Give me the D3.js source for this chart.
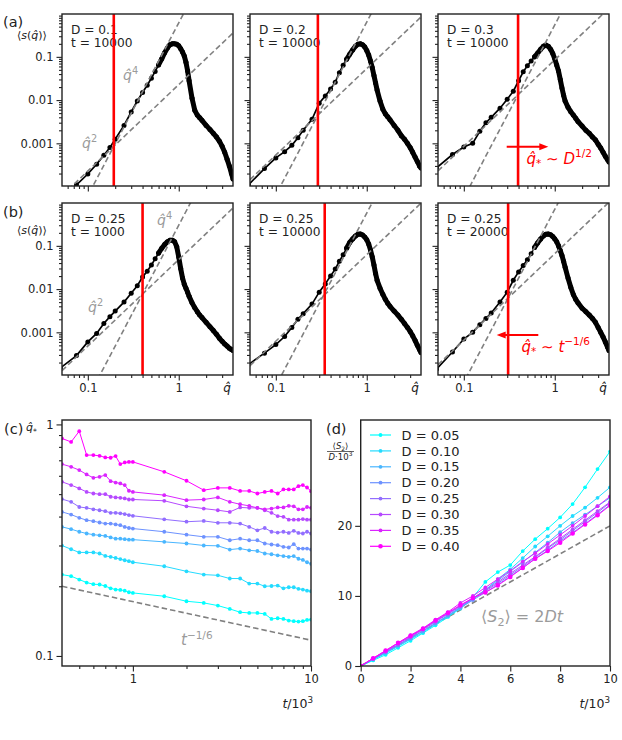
<!DOCTYPE html>
<html>
<head>
<meta charset="utf-8">
<script src="https://cdn.jsdelivr.net/npm/d3@7/dist/d3.min.js"></script>
<style>
  body { margin: 0; background: #fff; }
  svg { display: block; }
  text { font-family: "DejaVu Sans", sans-serif; }
</style>
</head>
<body>
<svg id="fig" width="622" height="740"></svg>
<script>
// ---------- data: structure factor panels (a), (b) ----------
const qGrid = [0.05, 0.075, 0.1, 0.125, 0.15, 0.175, 0.2,
  0.25, 0.3, 0.35, 0.4, 0.45, 0.5, 0.55, 0.6, 0.65, 0.7, 0.75, 0.8, 0.85, 0.9, 0.95,
  1.0, 1.05, 1.1, 1.15, 1.2, 1.25, 1.3,
  1.4, 1.5, 1.6, 1.7, 1.8,
  2.0, 2.2, 2.4, 2.6, 2.8, 3.0, 3.2, 3.4, 3.6, 3.8, 3.95];

const sA1 = [5e-5, 1.1e-4, 1.95e-4, 3.3e-4, 5.3e-4, 8e-4, 1.25e-3,
  2.6e-3, 5.3e-3, 9.5e-3, 0.015, 0.022, 0.032, 0.046, 0.065, 0.09, 0.125, 0.16, 0.19, 0.2, 0.2, 0.195,
  0.18, 0.155, 0.13, 0.105, 0.075, 0.048, 0.028,
  0.011, 0.0058, 0.0045, 0.0039, 0.0034,
  0.0026, 0.0021, 0.0017, 0.0014, 0.00112, 0.00085, 0.00062, 0.00043, 0.0003, 0.0002, 0.00015];
const sA2 = [1.1e-4, 2.6e-4, 4.6e-4, 6.4e-4, 9e-4, 1.35e-3, 2.0e-3,
  3.6e-3, 8.5e-3, 0.0125, 0.018, 0.026, 0.043, 0.064, 0.088, 0.115, 0.145, 0.175, 0.195, 0.2, 0.19, 0.17,
  0.14, 0.11, 0.08, 0.056, 0.037, 0.025, 0.017,
  0.0095, 0.0062, 0.0048, 0.0041, 0.0035,
  0.0026, 0.002, 0.0015, 0.00125, 0.001, 0.0008, 0.00062, 0.00048, 0.00038, 0.0003, 0.00027];
const sA3 = [2.7e-4, 5.5e-4, 8.2e-4, 1.0e-3, 1.9e-3, 3.0e-3, 4.0e-3,
  6.5e-3, 0.0105, 0.016, 0.028, 0.045, 0.062, 0.08, 0.1, 0.123, 0.15, 0.175, 0.187, 0.175, 0.15, 0.12,
  0.09, 0.065, 0.047, 0.03, 0.019, 0.013, 0.0095,
  0.0068, 0.0054, 0.0045, 0.0038, 0.0032,
  0.0025, 0.002, 0.0017, 0.0014, 0.0012, 0.00095, 0.00078, 0.00062, 0.0005, 0.00042, 0.00037];
const sB1 = [1.5e-4, 2.9e-4, 6.0e-4, 9.4e-4, 1.6e-3, 2.3e-3, 3.1e-3,
  5.0e-3, 8.0e-3, 0.012, 0.019, 0.026, 0.036, 0.05, 0.068, 0.088, 0.108, 0.124, 0.134, 0.135, 0.125, 0.095,
  0.055, 0.03, 0.018, 0.013, 0.0105, 0.0085, 0.0068,
  0.0048, 0.0037, 0.003, 0.0025, 0.0022,
  0.0017, 0.00135, 0.0011, 0.0009, 0.00073, 0.00062, 0.00054, 0.00048, 0.00043, 0.0004, 0.00038];
const sB2 = [1.8e-4, 3.3e-4, 5.2e-4, 8e-4, 1.3e-3, 2.0e-3, 2.7e-3,
  4.5e-3, 8.5e-3, 0.0132, 0.02, 0.029, 0.044, 0.062, 0.088, 0.12, 0.145, 0.168, 0.185, 0.188, 0.178, 0.16,
  0.138, 0.11, 0.08, 0.055, 0.036, 0.023, 0.016,
  0.0105, 0.0076, 0.0058, 0.0047, 0.004,
  0.0031, 0.0025, 0.002, 0.0016, 0.0013, 0.00105, 0.00083, 0.00065, 0.0005, 0.0004, 0.00034];
const sB3 = [1.4e-4, 3.5e-4, 7.0e-4, 1.0e-3, 1.5e-3, 2.1e-3, 2.8e-3,
  5.0e-3, 8.5e-3, 0.016, 0.025, 0.035, 0.048, 0.066, 0.092, 0.118, 0.145, 0.17, 0.186, 0.188, 0.18, 0.165,
  0.145, 0.125, 0.1, 0.078, 0.06, 0.044, 0.032,
  0.018, 0.011, 0.0075, 0.0058, 0.0048,
  0.0036, 0.003, 0.0025, 0.0021, 0.0017, 0.0013, 0.001, 0.00078, 0.0006, 0.00046, 0.00038];

const panelD = ['0.1', '0.2', '0.3', '0.25', '0.25', '0.25'];
const panelT = ['10000', '10000', '10000', '1000', '10000', '20000'];
const qStar = [0.193, 0.29, 0.395, 0.40, 0.345, 0.307];     // red line
const crossQ = [0.193, 0.29, 0.395, 0.40, 0.33, 0.307];     // where q^2 and q^4 guides meet
const crossS = [8.5e-4, 4.5e-3, 0.0133, 7.7e-3, 6.8e-3, 6.2e-3];

// ---------- data: panel (c) q* vs t ----------
const tLog = [0.4, 0.45, 0.5, 0.55, 0.6, 0.65, 0.7, 0.75, 0.8, 0.85, 0.9, 0.95, 1.0,
  1.5, 2, 2.5, 3, 3.5, 4, 4.5, 5, 5.5, 6, 6.5, 7, 7.5, 8, 8.5, 9, 9.5, 10];
const qsD05 = [0.2246, 0.2211, 0.2138, 0.2075, 0.2041, 0.2035, 0.2005, 0.196, 0.1935, 0.1929, 0.1915, 0.1884, 0.1872,
  0.1811, 0.1723, 0.1695, 0.165, 0.1596, 0.1545, 0.1534, 0.1534, 0.1519, 0.1445, 0.1455, 0.1445, 0.1422, 0.1413, 0.1408, 0.1413, 0.1431, 0.1436];
const qsD10 = [0.2999, 0.289, 0.28, 0.28, 0.28, 0.277, 0.2705, 0.268, 0.265, 0.262, 0.259, 0.2566, 0.254,
  0.244, 0.232, 0.2246, 0.223, 0.216, 0.216, 0.2055, 0.2055, 0.2, 0.2005, 0.2014, 0.196, 0.198, 0.198, 0.195, 0.1935, 0.1915, 0.1903];
const qsD15 = [0.361, 0.353, 0.344, 0.338, 0.334, 0.332, 0.33, 0.325, 0.321, 0.321, 0.3195, 0.318, 0.318,
  0.311, 0.306, 0.30, 0.299, 0.288, 0.291, 0.286, 0.284, 0.277, 0.275, 0.272, 0.27, 0.268, 0.27, 0.263, 0.26, 0.254, 0.25];
const qsD20 = [0.419, 0.408, 0.395, 0.386, 0.382, 0.377, 0.373, 0.373, 0.37, 0.367, 0.361, 0.357, 0.355,
  0.344, 0.334, 0.327, 0.327, 0.316, 0.321, 0.316, 0.316, 0.306, 0.303, 0.301, 0.296, 0.294, 0.304, 0.291, 0.291, 0.291, 0.288];
const qsD25 = [0.476, 0.463, 0.44, 0.436, 0.43, 0.426, 0.422, 0.415, 0.415, 0.413, 0.41, 0.406, 0.403,
  0.389, 0.38, 0.383, 0.376, 0.376, 0.373, 0.361, 0.349, 0.357, 0.344, 0.341, 0.344, 0.34, 0.347, 0.34, 0.338, 0.344, 0.338];
const qsD30 = [0.565, 0.547, 0.529, 0.511, 0.503, 0.5, 0.5, 0.487, 0.484, 0.482, 0.479, 0.474, 0.474,
  0.468, 0.443, 0.433, 0.426, 0.419, 0.438, 0.436, 0.436, 0.426, 0.415, 0.402, 0.399, 0.388, 0.388, 0.388, 0.39, 0.388, 0.388];
const qsD35 = [0.674, 0.656, 0.635, 0.608, 0.588, 0.594, 0.604, 0.569, 0.561, 0.556, 0.547, 0.517, 0.511,
  0.495, 0.471, 0.474, 0.484, 0.463, 0.452, 0.445, 0.436, 0.43, 0.433, 0.438, 0.438, 0.445, 0.443, 0.43, 0.43, 0.44, 0.436];
const qsD40 = [0.87, 0.84, 0.935, 0.737, 0.737, 0.732, 0.72, 0.718, 0.73, 0.674, 0.685, 0.689, 0.689,
  0.624, 0.571, 0.52, 0.532, 0.532, 0.516, 0.516, 0.503, 0.511, 0.516, 0.503, 0.524, 0.524, 0.524, 0.541, 0.547, 0.534, 0.515];

// ---------- data: panel (d) <S2>/(D 10^3) vs t ----------
const tLin = [0, 0.5, 1, 1.5, 2, 2.5, 3, 3.5, 4, 4.5, 5, 5.5, 6, 6.5, 7, 7.5, 8, 8.5, 9, 9.5, 10];
const s2D05 = [0, 0.8, 1.6, 2.6, 3.6, 4.7, 5.8, 7.0, 8.2, 9.8, 12.0, 13.4, 14.4, 16.4, 18.1, 19.6, 21.2, 23.1, 25.5, 28.1, 30.6];
const s2D10 = [0, 0.9, 1.8, 2.8, 3.8, 4.8, 6.0, 7.1, 8.3, 9.5, 10.8, 12.4, 13.8, 15.4, 17.05, 18.5, 20.0, 21.4, 22.6, 24.0, 25.5];
const s2D15 = [0, 1.0, 1.9, 2.9, 3.9, 5.0, 6.1, 7.2, 8.4, 9.6, 10.9, 12.2, 13.5, 14.8, 16.2, 17.6, 19.1, 20.4, 21.6, 22.8, 24.0];
const s2D20 = [0, 1.0, 2.0, 3.0, 4.0, 5.0, 6.1, 7.2, 8.3, 9.4, 10.5, 11.6, 12.8, 14.0, 15.3, 16.5, 17.8, 19.0, 20.3, 21.6, 23.0];
const s2D25 = [0, 1.0, 2.0, 3.0, 4.1, 5.2, 6.3, 7.4, 8.5, 9.6, 10.7, 11.8, 13.0, 14.2, 15.5, 16.8, 18.0, 19.3, 20.6, 21.9, 23.3];
const s2D30 = [0, 1.1, 2.1, 3.2, 4.2, 5.3, 6.4, 7.5, 8.6, 9.7, 10.8, 12.0, 13.2, 14.4, 15.6, 16.9, 18.2, 19.5, 20.8, 22.1, 23.4];
const s2D35 = [0, 1.1, 2.2, 3.3, 4.4, 5.4, 6.6, 7.7, 9.0, 10.0, 11.2, 12.4, 13.6, 14.9, 16.1, 17.4, 18.7, 20.0, 21.4, 22.8, 24.2];
const s2D40 = [0, 1.1, 2.2, 3.3, 4.3, 5.3, 6.5, 7.6, 8.7, 9.7, 10.5, 11.5, 12.7, 14.0, 15.3, 16.4, 17.6, 18.9, 20.2, 21.5, 22.9];

const dLabels = ['0.05', '0.10', '0.15', '0.20', '0.25', '0.30', '0.35', '0.40'];

// ---------- layout ----------
const svg = d3.select('#fig');
const INK = '#222';
const GUIDE = '#808080';
const NOTE = '#9b9b9b';
const RED = '#ff0000';
const W = 171, H = 172;
const colX = [62, 250, 438], rowY = [14, 203];
const qDomain = [0.052, 3.95], sDomain = [1.03e-4, 0.98];
const sData = [sA1, sA2, sA3, sB1, sB2, sB3];
const cool = d3.interpolateRgb('#00ffff', '#ff00ff');
const colors = dLabels.map((_, k) => cool(k / 7));

function minorLog(lo, hi) {
  const out = [];
  for (let e = -5; e <= 2; e++) {
    for (let k = 2; k <= 9; k++) {
      const v = k * Math.pow(10, e);
      if (v > lo && v < hi) out.push(v);
    }
  }
  return out;
}

function styleAxis(a, size) {
  a.select('.domain').remove();
  a.attr('font-family', '"DejaVu Sans", sans-serif').attr('font-size', size || 11.5).attr('color', INK);
  a.selectAll('line').attr('stroke-width', 1.1);
}

// math-ish text: parts = [[string, flags]], flags: i italic, ^ sup, _ sub
function mtext(sel, x, y, parts, size, color, anchor) {
  const t = sel.append('text').attr('x', x).attr('y', y)
    .attr('font-size', size).attr('fill', color).attr('text-anchor', anchor || 'start');
  let shift = 0;
  parts.forEach(([s, f]) => {
    let target = 0, fs = size;
    if (f.includes('^')) { target = -0.42 * size; fs = size * 0.7; }
    if (f.includes('_')) { target = 0.25 * size; fs = size * 0.7; }
    t.append('tspan').attr('dy', target - shift).attr('font-size', fs)
      .attr('font-style', f.includes('i') ? 'italic' : 'normal').text(s);
    shift = target;
  });
  return t;
}

function arrow(sel, x1, x2, y, color) {
  const dir = Math.sign(x2 - x1);
  sel.append('line').attr('x1', x1).attr('x2', x2 - dir * 6).attr('y1', y).attr('y2', y)
    .attr('stroke', color).attr('stroke-width', 2);
  sel.append('path')
    .attr('d', `M${x2},${y} L${x2 - dir * 9},${y - 3.5} L${x2 - dir * 9},${y + 3.5} Z`)
    .attr('fill', color);
}

// ---------- panels (a) and (b) ----------
sData.forEach((s, i) => {
  const row = Math.floor(i / 3), col = i % 3;
  const x0 = colX[col], y0 = rowY[row];
  const x = d3.scaleLog().domain(qDomain).range([x0, x0 + W]);
  const y = d3.scaleLog().domain(sDomain).range([y0 + H, y0]);
  const line = d3.line().x(d => x(d[0])).y(d => y(d[1]));

  svg.append('clipPath').attr('id', 'cp' + i).append('rect')
    .attr('x', x0).attr('y', y0).attr('width', W).attr('height', H);
  const plot = svg.append('g').attr('clip-path', `url(#cp${i})`);

  // label text sits under everything else
  plot.append('text').attr('x', x0 + 9).attr('y', y0 + 19.5).attr('font-size', 12.2).attr('fill', INK)
    .text('D = ' + panelD[i]);
  plot.append('text').attr('x', x0 + 9).attr('y', y0 + 33).attr('font-size', 12.2).attr('fill', INK)
    .text('t = ' + panelT[i]);

  const pts = qGrid.map((q, k) => [q, s[k]]);
  plot.append('path').attr('d', line(pts)).attr('fill', 'none')
    .attr('stroke', '#000').attr('stroke-width', 1.7);
  // past q ~ 0.6 the markers sit so close they merge into a thick band
  plot.append('path').attr('d', line(pts.filter(d => d[0] >= 0.6))).attr('fill', 'none')
    .attr('stroke', '#000').attr('stroke-width', 5)
    .attr('stroke-linejoin', 'round').attr('stroke-linecap', 'round');
  plot.selectAll('circle.m').data(pts).enter().append('circle').attr('class', 'm')
    .attr('cx', d => x(d[0])).attr('cy', d => y(d[1])).attr('r', 2.5).attr('fill', '#000');

  // power-law guides q^2 and q^4
  [2, 4].forEach(n => {
    const ends = qDomain.map(q => [q, crossS[i] * Math.pow(q / crossQ[i], n)]);
    plot.append('path').attr('d', line(ends)).attr('fill', 'none')
      .attr('stroke', GUIDE).attr('stroke-width', 1.6).attr('stroke-dasharray', '5.5,3');
  });

  plot.append('line').attr('x1', x(qStar[i])).attr('x2', x(qStar[i]))
    .attr('y1', y0).attr('y2', y0 + H).attr('stroke', RED).attr('stroke-width', 2.6);

  // axes
  const yMaj = svg.append('g').attr('transform', `translate(${x0},0)`)
    .call(d3.axisLeft(y).tickValues([0.001, 0.01, 0.1]).tickSize(5.5).tickPadding(3)
      .tickFormat(col === 0 ? (d => String(d)) : ''));
  styleAxis(yMaj);
  const yMin = svg.append('g').attr('transform', `translate(${x0},0)`)
    .call(d3.axisLeft(y).tickValues(minorLog(sDomain[0], sDomain[1])).tickSize(3).tickFormat(''));
  styleAxis(yMin);
  const xMaj = svg.append('g').attr('transform', `translate(0,${y0 + H})`)
    .call(d3.axisBottom(x).tickValues([0.1, 1]).tickSize(5.5).tickPadding(3)
      .tickFormat(row === 1 ? (d => String(d)) : ''));
  styleAxis(xMaj);
  const xMin = svg.append('g').attr('transform', `translate(0,${y0 + H})`)
    .call(d3.axisBottom(x).tickValues(minorLog(qDomain[0], qDomain[1])).tickSize(3).tickFormat(''));
  styleAxis(xMin);

  svg.append('rect').attr('x', x0).attr('y', y0).attr('width', W).attr('height', H)
    .attr('fill', 'none').attr('stroke', INK).attr('stroke-width', 1.4);

  if (row === 1) {
    mtext(svg, x0 + W - 6, y0 + H + 17, [['q\u0302', 'i']], 12, INK, 'middle');
  }

  // annotations
  if (i === 0) {
    mtext(svg, x0 + 61, y0 + 66, [['q\u0302', 'i'], ['4', '^']], 14, NOTE);
    mtext(svg, x0 + 20, y0 + 134, [['q\u0302', 'i'], ['2', '^']], 14, NOTE);
  }
  if (i === 3) {
    mtext(svg, x0 + 95, y0 + 22, [['q\u0302', 'i'], ['4', '^']], 14, NOTE);
    mtext(svg, x0 + 26, y0 + 109, [['q\u0302', 'i'], ['2', '^']], 14, NOTE);
  }
  if (i === 2) {
    arrow(svg, x0 + 68.7, x0 + 110.3, y0 + 132.7, RED);
    mtext(svg, x0 + 88.5, y0 + 149.5,
      [['q\u0302', 'i'], ['*', '_'], [' \u223C ', ''], ['D', 'i'], ['1/2', '^']], 15, RED);
  }
  if (i === 5) {
    arrow(svg, x0 + 100.3, x0 + 58.7, y0 + 132, RED);
    mtext(svg, x0 + 83.5, y0 + 148.5,
      [['q\u0302', 'i'], ['*', '_'], [' \u223C ', ''], ['t', 'i'], ['\u22121/6', '^']], 15, RED);
  }
});

// row labels
svg.append('text').attr('x', 3).attr('y', 27).attr('font-size', 14.5).attr('fill', INK).text('(a)');
svg.append('text').attr('x', 3).attr('y', 217).attr('font-size', 14.5).attr('fill', INK).text('(b)');
[39, 234].forEach(yy => {
  mtext(svg, 17, yy, [['\u27E8', ''], ['s', 'i'], ['(', ''], ['q\u0302', 'i'], [')\u27E9', '']], 11, INK);
});

// ---------- panel (c) ----------
{
  const L = 62, R = 311, T = 420, B = 666;
  const x = d3.scaleLog().domain([0.4, 10]).range([L, R]);
  const y = d3.scaleLog().domain([0.0905, 1.045]).range([B, T]);
  const line = d3.line().x(d => x(d[0])).y(d => y(d[1]));
  const series = [qsD05, qsD10, qsD15, qsD20, qsD25, qsD30, qsD35, qsD40];

  svg.append('clipPath').attr('id', 'cpc').append('rect')
    .attr('x', L).attr('y', T).attr('width', R - L).attr('height', B - T);
  const plot = svg.append('g').attr('clip-path', 'url(#cpc)');

  // t^{-1/6} guide
  const guide = x.domain().map(t => [t, 0.2 * Math.pow(t / 0.4, -1 / 6)]);
  plot.append('path').attr('d', line(guide)).attr('fill', 'none')
    .attr('stroke', GUIDE).attr('stroke-width', 1.6).attr('stroke-dasharray', '5.5,3');

  series.forEach((vals, k) => {
    const pts = tLog.map((t, j) => [t, vals[j]]);
    plot.append('path').attr('d', line(pts)).attr('fill', 'none')
      .attr('stroke', colors[k]).attr('stroke-width', 1);
    plot.selectAll(null).data(pts).enter().append('circle')
      .attr('cx', d => x(d[0])).attr('cy', d => y(d[1])).attr('r', 1.9).attr('fill', colors[k]);
  });

  mtext(svg, 181, 645, [['t', 'i'], ['\u22121/6', '^']], 15, NOTE);

  const yMaj = svg.append('g').attr('transform', `translate(${L},0)`)
    .call(d3.axisLeft(y).tickValues([0.1, 1]).tickSize(5.5).tickPadding(3).tickFormat(d => String(d)));
  styleAxis(yMaj);
  const yMin = svg.append('g').attr('transform', `translate(${L},0)`)
    .call(d3.axisLeft(y).tickValues(minorLog(0.0905, 1.045)).tickSize(3).tickFormat(''));
  styleAxis(yMin);
  const xMaj = svg.append('g').attr('transform', `translate(0,${B})`)
    .call(d3.axisBottom(x).tickValues([1, 10]).tickSize(5.5).tickPadding(3).tickFormat(d => String(d)));
  styleAxis(xMaj);
  const xMin = svg.append('g').attr('transform', `translate(0,${B})`)
    .call(d3.axisBottom(x).tickValues(minorLog(0.4, 10)).tickSize(3).tickFormat(''));
  styleAxis(xMin);

  svg.append('rect').attr('x', L).attr('y', T).attr('width', R - L).attr('height', B - T)
    .attr('fill', 'none').attr('stroke', INK).attr('stroke-width', 1.4);

  svg.append('text').attr('x', 4).attr('y', 434).attr('font-size', 14.5).attr('fill', INK).text('(c)');
  mtext(svg, 26, 431, [['q\u0302', 'i'], ['*', '_']], 11, INK);
  mtext(svg, 313, 708, [['t', 'i'], ['/10', ''], ['3', '^']], 12.5, INK, 'end');
}

// ---------- panel (d) ----------
{
  const L = 360.7, R = 610, T = 420, B = 666;
  const x = d3.scaleLinear().domain([0, 10]).range([L, R]);
  const y = d3.scaleLinear().domain([0, 35.1]).range([B, T]);
  const line = d3.line().x(d => x(d[0])).y(d => y(d[1]));
  const series = [s2D05, s2D10, s2D15, s2D20, s2D25, s2D30, s2D35, s2D40];

  svg.append('clipPath').attr('id', 'cpd').append('rect')
    .attr('x', L).attr('y', T).attr('width', R - L).attr('height', B - T);
  const plot = svg.append('g').attr('clip-path', 'url(#cpd)');

  // <S2> = 2Dt guide
  const guide = x.domain().map(t => [t, 2 * t]);
  plot.append('path').attr('d', line(guide)).attr('fill', 'none')
    .attr('stroke', GUIDE).attr('stroke-width', 1.6).attr('stroke-dasharray', '5.5,3');

  series.forEach((vals, k) => {
    const pts = tLin.map((t, j) => [t, vals[j]]);
    plot.append('path').attr('d', line(pts)).attr('fill', 'none')
      .attr('stroke', colors[k]).attr('stroke-width', 1);
    plot.selectAll(null).data(pts).enter().append('circle')
      .attr('cx', d => x(d[0])).attr('cy', d => y(d[1])).attr('r', k === 7 ? 2.3 : 1.9).attr('fill', colors[k]);
  });

  mtext(svg, 481, 622, [['\u27E8', ''], ['S', 'i'], ['2', '_'], ['\u27E9 = 2', ''], ['Dt', 'i']], 16, NOTE);

  // legend
  const leg = svg.append('g');
  dLabels.forEach((lab, k) => {
    const cy = 435 + k * 15.9;
    leg.append('line').attr('x1', 370).attr('x2', 391).attr('y1', cy).attr('y2', cy)
      .attr('stroke', colors[k]).attr('stroke-width', 1.2);
    leg.append('circle').attr('cx', 380.5).attr('cy', cy).attr('r', k === 7 ? 2.3 : 1.9).attr('fill', colors[k]);
    leg.append('text').attr('x', 401.5).attr('y', cy + 4.6).attr('font-size', 13).attr('fill', INK)
      .text('D = ' + lab);
  });

  const yAx = svg.append('g').attr('transform', `translate(${L},0)`)
    .call(d3.axisLeft(y).tickValues([0, 10, 20]).tickSize(5.5).tickPadding(3));
  styleAxis(yAx);
  const xAx = svg.append('g').attr('transform', `translate(0,${B})`)
    .call(d3.axisBottom(x).tickValues([0, 2, 4, 6, 8, 10]).tickSize(5.5).tickPadding(3));
  styleAxis(xAx);

  svg.append('rect').attr('x', L).attr('y', T).attr('width', R - L).attr('height', B - T)
    .attr('fill', 'none').attr('stroke', INK).attr('stroke-width', 1.4);

  svg.append('text').attr('x', 326).attr('y', 434).attr('font-size', 14.5).attr('fill', INK).text('(d)');
  // fraction label <S2> / (D 10^3)
  mtext(svg, 340.5, 449, [['\u27E8', ''], ['S', 'i'], ['2', '_'], ['\u27E9', '']], 8.5, INK, 'middle');
  svg.append('line').attr('x1', 327).attr('x2', 354).attr('y1', 451.5).attr('y2', 451.5)
    .attr('stroke', INK).attr('stroke-width', 0.7);
  mtext(svg, 340.5, 460, [['D', 'i'], ['\u00B710', ''], ['3', '^']], 8.5, INK, 'middle');
  mtext(svg, 610, 708, [['t', 'i'], ['/10', ''], ['3', '^']], 12.5, INK, 'end');
}
</script>
</body>
</html>
